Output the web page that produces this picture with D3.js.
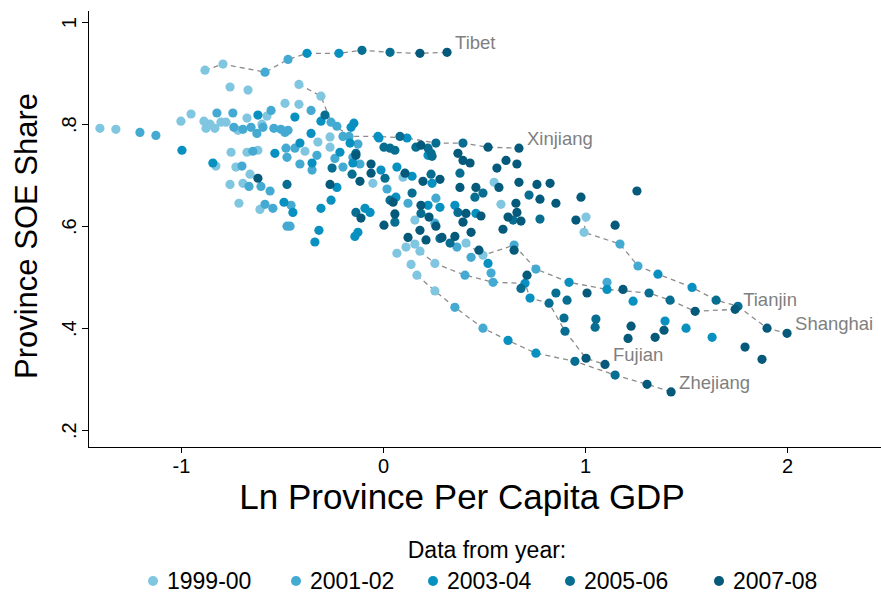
<!DOCTYPE html>
<html>
<head>
<meta charset="utf-8">
<title>Province SOE Share</title>
<style>
body { margin: 0; background: #fff; }
svg { font-family: Arial, "Liberation Sans", sans-serif; display: block; }
.axis path, .axis line { stroke: #000; stroke-width: 1.3; shape-rendering: crispEdges; }
.axis text { font-size: 20px; fill: #000; }
.track { fill: none; stroke: #8c8c8c; stroke-width: 1.3; stroke-dasharray: 5,4; }
.lab { fill: #7f7f7f; font-size: 18.5px; }
.title { fill: #000; }
.legend text { font-size: 23px; fill: #000; }
</style>
</head>
<body>
<div id="chart"></div>
<script src="https://d3js.org/d3.v7.min.js"></script>
<script>

const width = 881, height = 596;

// year groups and their colours
const groups = ['1999-00', '2001-02', '2003-04', '2005-06', '2007-08'];
const colors = ['#80c6e0', '#44aad2', '#0890c0', '#076e92', '#05597a'];

const xTicks = [-1, 0, 1, 2];
const yTicks = [0.2, 0.4, 0.6, 0.8, 1];
const yTickLabels = ['.2', '.4', '.6', '.8', '1'];

// labelled provinces, one point per year 1999..2008 : [ln gdp, soe share]
const tibet = [[-0.881, 0.906], [-0.792, 0.918], [-0.584, 0.902], [-0.470, 0.927], [-0.376, 0.939],
	[-0.218, 0.939], [-0.104, 0.945], [0.035, 0.941], [0.183, 0.939], [0.317, 0.941]];
const xinjiang = [[-0.416, 0.878], [-0.307, 0.855], [-0.257, 0.804], [-0.168, 0.776], [-0.025, 0.776],
	[0.119, 0.773], [0.262, 0.763], [0.396, 0.763], [0.520, 0.755], [0.673, 0.753]];
const tianjin = [[0.411, 0.567], [0.495, 0.543], [0.649, 0.563], [0.757, 0.516], [0.921, 0.490],
	[1.109, 0.476], [1.317, 0.469], [1.421, 0.455], [1.545, 0.433], [1.743, 0.437]];
const shanghai = [[1.005, 0.618], [0.995, 0.588], [1.173, 0.565], [1.262, 0.522], [1.361, 0.506],
	[1.530, 0.480], [1.649, 0.455], [1.757, 0.443], [1.901, 0.400], [2.000, 0.390]];
const fujian = [[0.183, 0.551], [0.257, 0.527], [0.406, 0.504], [0.545, 0.490], [0.703, 0.488],
	[0.728, 0.459], [0.822, 0.449], [0.901, 0.394], [1.005, 0.341], [1.099, 0.329]];
const zhejiang = [[0.168, 0.504], [0.257, 0.473], [0.356, 0.441], [0.495, 0.400], [0.619, 0.376],
	[0.757, 0.351], [0.950, 0.335], [1.149, 0.308], [1.307, 0.290], [1.426, 0.275]];

const labelled = [
	{ name: 'Tibet', values: tibet },
	{ name: 'Xinjiang', values: xinjiang },
	{ name: 'Tianjin', values: tianjin },
	{ name: 'Shanghai', values: shanghai },
	{ name: 'Fujian', values: fujian },
	{ name: 'Zhejiang', values: zhejiang }
];

// all other provinces, by year group : [ln gdp, soe share]
const others1999 = [[-1.401, 0.792], [-1.322, 0.790], [-1.000, 0.806], [-0.950, 0.820], [-0.757, 0.873],
	[-0.668, 0.867], [-0.673, 0.812], [-0.574, 0.816], [-0.886, 0.806], [-0.876, 0.792], [-0.832, 0.792],
	[-0.802, 0.804], [-0.777, 0.804], [-0.485, 0.841], [-0.752, 0.745], [-0.673, 0.745], [-0.619, 0.749],
	[-0.827, 0.718], [-0.728, 0.716], [-0.658, 0.702], [-0.693, 0.684], [-0.757, 0.682], [-0.609, 0.633],
	[-0.713, 0.645], [-0.416, 0.839], [-0.322, 0.765], [-0.262, 0.775], [-0.262, 0.755], [-0.386, 0.747],
	[-0.050, 0.684], [0.099, 0.696], [0.158, 0.612], [0.069, 0.547], [0.114, 0.559], [0.158, 0.565],
	[0.139, 0.525], [0.550, 0.686], [0.584, 0.643], [-0.856, 0.800], [-0.718, 0.788], [-0.599, 0.800]];
const others2001 = [[-1.203, 0.784], [-1.124, 0.778], [-0.822, 0.822], [-0.743, 0.822], [-0.554, 0.827],
	[-0.738, 0.794], [-0.693, 0.790], [-0.653, 0.794], [-0.624, 0.782], [-0.594, 0.794], [-0.540, 0.792],
	[-0.505, 0.790], [-0.485, 0.784], [-0.644, 0.747], [-0.480, 0.753], [-0.698, 0.718], [-0.604, 0.678],
	[-0.663, 0.678], [-0.559, 0.669], [-0.584, 0.643], [-0.545, 0.635], [-0.475, 0.735], [-0.475, 0.600],
	[-0.356, 0.827], [-0.228, 0.796], [-0.198, 0.776], [-0.124, 0.761], [-0.470, 0.788], [-0.436, 0.753],
	[-0.327, 0.739], [-0.411, 0.722], [-0.351, 0.710], [-0.238, 0.733], [-0.198, 0.716], [-0.149, 0.735],
	[-0.114, 0.722], [0.020, 0.673], [-0.455, 0.641], [-0.460, 0.600], [0.124, 0.645], [0.262, 0.655],
	[0.257, 0.606], [0.366, 0.559], [0.436, 0.539], [0.535, 0.508], [1.109, 0.490]];
const others2003 = [[-0.995, 0.749], [-0.619, 0.818], [-0.842, 0.724], [-0.535, 0.743], [-0.490, 0.647],
	[-0.436, 0.814], [-0.307, 0.806], [-0.144, 0.802], [-0.158, 0.794], [-0.163, 0.763], [-0.020, 0.773],
	[-0.356, 0.782], [-0.411, 0.763], [-0.213, 0.745], [-0.351, 0.724], [-0.149, 0.724], [-0.010, 0.710],
	[-0.228, 0.676], [-0.257, 0.651], [-0.446, 0.627], [-0.307, 0.635], [-0.317, 0.592], [-0.337, 0.569],
	[-0.089, 0.635], [-0.064, 0.627], [-0.139, 0.580], [-0.124, 0.588], [0.064, 0.657], [0.069, 0.716],
	[0.144, 0.698], [0.223, 0.641], [0.243, 0.684], [0.223, 0.739], [0.282, 0.637], [0.356, 0.641],
	[0.460, 0.625], [1.238, 0.453], [1.396, 0.414], [1.500, 0.400], [1.629, 0.382], [0.520, 0.527]];
const others2005 = [[-0.287, 0.818], [0.084, 0.776], [0.005, 0.755], [0.035, 0.753], [0.059, 0.749],
	[0.163, 0.755], [0.223, 0.753], [0.238, 0.743], [-0.475, 0.682], [-0.252, 0.714], [-0.153, 0.702],
	[0.010, 0.694], [-0.134, 0.627], [0.035, 0.651], [0.059, 0.608], [0.144, 0.665], [0.188, 0.625],
	[0.238, 0.702], [0.243, 0.737], [0.381, 0.704], [0.495, 0.665], [0.455, 0.657], [0.371, 0.627],
	[0.282, 0.576], [0.332, 0.567], [0.723, 0.661], [0.644, 0.612], [0.777, 0.614], [0.683, 0.478],
	[0.856, 0.469], [0.911, 0.455], [0.896, 0.420], [1.054, 0.418], [1.050, 0.402], [-0.134, 0.743]];
const others2007 = [[-0.619, 0.694], [-0.134, 0.739], [-0.059, 0.722], [-0.059, 0.704], [-0.114, 0.688],
	[-0.262, 0.682], [-0.109, 0.616], [0.005, 0.602], [0.050, 0.647], [0.059, 0.624], [0.109, 0.704],
	[0.188, 0.641], [0.228, 0.618], [0.198, 0.688], [0.282, 0.692], [0.188, 0.759], [0.371, 0.743],
	[0.396, 0.729], [0.431, 0.724], [0.381, 0.676], [0.460, 0.676], [0.411, 0.625], [0.485, 0.620],
	[0.396, 0.608], [0.356, 0.580], [0.436, 0.588], [0.292, 0.578], [0.475, 0.553], [0.213, 0.573],
	[0.124, 0.578], [0.183, 0.592], [0.262, 0.600], [0.609, 0.729], [0.663, 0.722], [0.564, 0.714],
	[0.574, 0.676], [0.673, 0.686], [0.762, 0.682], [0.827, 0.684], [0.777, 0.653], [0.856, 0.645],
	[0.658, 0.645], [0.663, 0.627], [0.619, 0.618], [0.683, 0.610], [0.594, 0.594], [0.980, 0.657],
	[1.257, 0.669], [0.955, 0.612], [1.149, 0.602], [0.649, 0.553], [0.713, 0.504], [1.010, 0.469],
	[1.188, 0.476], [1.228, 0.404], [1.213, 0.380], [1.391, 0.396], [1.347, 0.382], [1.792, 0.363],
	[1.876, 0.339]];
const others = [others1999, others2001, others2003, others2005, others2007];

// build svg
const svg = d3.select('#chart').append('svg')
	.attr('width', width)
	.attr('height', height);

const x = d3.scaleLinear().domain([-1.46, 2.465]).range([88, 881]);
const y = d3.scaleLinear().domain([0.167, 1.024]).range([447, 10]);

// axes
svg.append('g')
	.attr('class', 'axis')
	.attr('transform', 'translate(0,447)')
	.call(d3.axisBottom(x).tickValues(xTicks).tickFormat(d => String(d)).tickSize(6).tickSizeOuter(0))
	.selectAll('text').attr('dy', '0.85em');

const yAxis = svg.append('g')
	.attr('class', 'axis')
	.attr('transform', 'translate(88,0)')
	.call(d3.axisLeft(y).tickValues(yTicks).tickFormat((d, i) => yTickLabels[i]).tickSize(6).tickSizeOuter(0));
yAxis.selectAll('text')
	.attr('x', 0).attr('dy', 0)
	.attr('text-anchor', 'middle')
	.attr('transform', 'translate(-12,0) rotate(-90)');

// axis titles
svg.append('text').attr('class', 'title')
	.attr('text-anchor', 'middle')
	.style('font-size', '31px')
	.attr('transform', 'translate(37,236) rotate(-90)')
	.text('Province SOE Share');
svg.append('text').attr('class', 'title')
	.attr('text-anchor', 'middle')
	.style('font-size', '35px')
	.attr('x', 462).attr('y', 509)
	.text('Ln Province Per Capita GDP');

// dashed paths for the labelled provinces
const line = d3.line().x(d => x(d[0])).y(d => y(d[1]));
svg.append('g').selectAll('path')
	.data(labelled)
	.join('path')
	.attr('class', 'track')
	.attr('d', d => line(d.values));

// points, one layer per year group
groups.forEach((g, gi) => {
	const pts = others[gi].slice();
	labelled.forEach(p => {
		pts.push(p.values[gi * 2], p.values[gi * 2 + 1]);
	});
	svg.append('g').selectAll('circle')
		.data(pts)
		.join('circle')
		.attr('cx', d => x(d[0]))
		.attr('cy', d => y(d[1]))
		.attr('r', 4.6)
		.attr('fill', colors[gi]);
});

// province labels next to their last point
svg.append('g').selectAll('text')
	.data(labelled)
	.join('text')
	.attr('class', 'lab')
	.attr('x', d => x(d.values[9][0]) + 8)
	.attr('y', d => y(d.values[9][1]) - 3)
	.text(d => d.name);

// legend
const legend = svg.append('g').attr('class', 'legend');
legend.append('text')
	.attr('x', 487).attr('y', 558)
	.attr('text-anchor', 'middle')
	.text('Data from year:');
const legendX = [153, 296, 433, 570, 719];
const item = legend.selectAll('g.item')
	.data(groups)
	.join('g')
	.attr('class', 'item')
	.attr('transform', (d, i) => `translate(${legendX[i]},581)`);
item.append('circle').attr('r', 5).attr('fill', (d, i) => colors[i]);
item.append('text').attr('x', 14).attr('dy', '0.36em').text(d => d);

</script>
</body>
</html>
